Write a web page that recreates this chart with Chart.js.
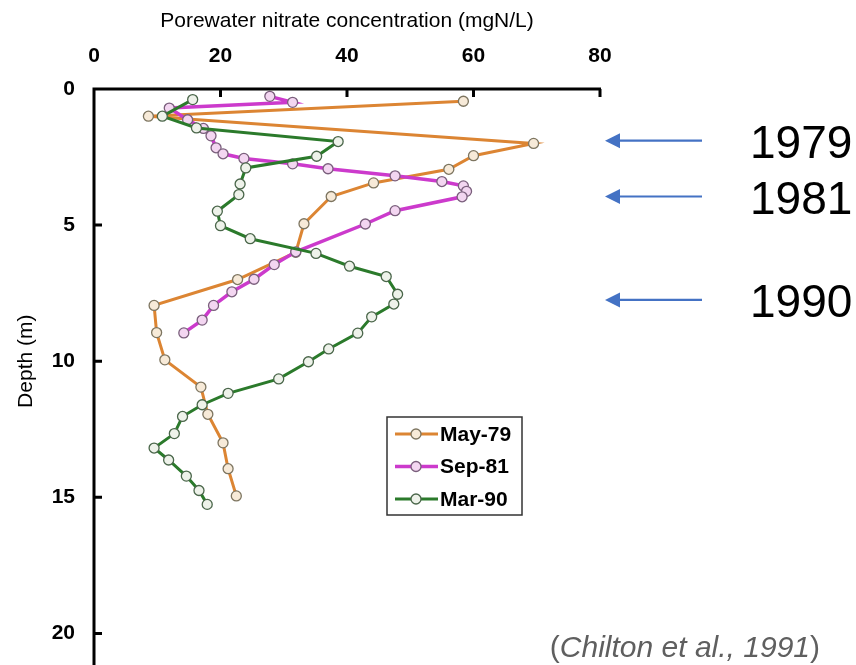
<!DOCTYPE html>
<html>
<head>
<meta charset="utf-8">
<script src="https://cdn.jsdelivr.net/npm/chart.js@4"></script>
<style>
  html, body { margin:0; padding:0; background:#fff; }
  #wrap { position:relative; width:856px; height:665px; }
</style>
</head>
<body>
<div id="wrap"><canvas id="chart" width="856" height="665"></canvas></div>
<script>
// values: nitrate (mgN/L) against depth (m)
const may79Nitrate = [58.4, 8.6, 69.5, 60.0, 56.1, 44.2, 37.5, 33.2, 31.9, 22.7, 9.5, 9.9, 11.2, 16.9, 18.0, 20.4, 21.2, 22.5];
const may79Depth   = [0.45, 1.0, 2.0, 2.45, 2.95, 3.45, 3.95, 4.95, 6.0, 7.0, 7.95, 8.95, 9.95, 10.95, 11.95, 13.0, 13.95, 14.95];

const sep81Nitrate = [27.8, 31.4, 11.9, 14.8, 17.3, 18.5, 19.3, 20.4, 23.7, 31.4, 37.0, 47.6, 55.0, 58.4, 58.9, 58.2, 47.6, 42.9, 31.9, 28.5, 25.3, 21.8, 18.9, 17.1, 14.2];
const sep81Depth   = [0.27, 0.49, 0.7, 1.13, 1.45, 1.72, 2.16, 2.38, 2.55, 2.75, 2.93, 3.19, 3.4, 3.56, 3.76, 3.96, 4.47, 4.96, 5.98, 6.45, 6.99, 7.45, 7.95, 8.49, 8.96];

const mar90Nitrate = [15.6, 10.8, 16.2, 38.6, 35.2, 24.0, 23.1, 22.9, 19.5, 20.0, 24.7, 35.1, 40.4, 46.2, 48.0, 47.4, 43.9, 41.7, 37.1, 33.9, 29.2, 21.2, 17.1, 14.0, 12.7, 9.5, 11.8, 14.6, 16.6, 17.9];
const mar90Depth   = [0.39, 1.0, 1.43, 1.93, 2.47, 2.9, 3.49, 3.88, 4.49, 5.02, 5.5, 6.04, 6.51, 6.89, 7.54, 7.9, 8.37, 8.97, 9.55, 10.02, 10.65, 11.18, 11.6, 12.03, 12.66, 13.19, 13.63, 14.22, 14.75, 15.26];

const seriesNames = ['May-79', 'Sep-81', 'Mar-90'];
const xTitle = 'Porewater nitrate concentration (mgN/L)';
const yTitle = 'Depth (m)';
const xTicks = [0, 20, 40, 60, 80];
const yTicks = [0, 5, 10, 15, 20];
const yearNotes = [{ text: '1979', depth: 1.9 }, { text: '1981', depth: 3.95 }, { text: '1990', depth: 7.75 }];
const citation = ['(', 'Chilton et al., 1991', ')'];

const toPoints = (xs, ys) => xs.map((v, i) => ({ x: v, y: ys[i] }));

function series(label, xs, ys, color, fill, edge, width, order) {
  return {
    label, data: toPoints(xs, ys), showLine: true,
    borderColor: color, borderWidth: width,
    pointRadius: 5, pointBorderWidth: 1.3,
    pointBackgroundColor: fill, pointBorderColor: edge,
    order, clip: false
  };
}

const datasets = [
  series(seriesNames[0], may79Nitrate, may79Depth, '#dc8533', '#f7ead8', '#7d7560', 3, 3),
  series(seriesNames[1], sep81Nitrate, sep81Depth, '#cc3acc', '#f3d6f1', '#7a5f7c', 3.5, 2),
  series(seriesNames[2], mar90Nitrate, mar90Depth, '#2b7a2b', '#eef2ea', '#4a664a', 3, 1)
];

const overlay = {
  id: 'overlay',
  afterDraw(chart) {
    const { ctx, chartArea: a, scales: { x, y } } = chart;
    ctx.save();
    // axes with inside ticks
    ctx.strokeStyle = '#000';
    ctx.lineWidth = 3;
    ctx.beginPath();
    ctx.moveTo(a.left - 1.5, a.top); ctx.lineTo(a.right + 1, a.top);
    ctx.moveTo(a.left, a.top); ctx.lineTo(a.left, chart.height);
    xTicks.slice(1).forEach(v => { const p = x.getPixelForValue(v); ctx.moveTo(p, a.top); ctx.lineTo(p, a.top + 8); });
    yTicks.slice(1).forEach(v => { const p = y.getPixelForValue(v); ctx.moveTo(a.left, p); ctx.lineTo(a.left + 8, p); });
    ctx.stroke();

    // legend box
    ctx.lineWidth = 1.5;
    ctx.strokeStyle = '#333';
    ctx.strokeRect(387, 417, 135, 98);
    ctx.font = 'bold 21px Arial, "Liberation Sans", sans-serif';
    ctx.textBaseline = 'middle';
    ctx.textAlign = 'left';
    chart.data.datasets.forEach((ds, i) => {
      const ry = 434 + i * 32.5;
      ctx.strokeStyle = ds.borderColor;
      ctx.lineWidth = ds.borderWidth;
      ctx.beginPath(); ctx.moveTo(395, ry); ctx.lineTo(438, ry); ctx.stroke();
      ctx.beginPath(); ctx.arc(416, ry, 5, 0, Math.PI * 2);
      ctx.fillStyle = ds.pointBackgroundColor; ctx.fill();
      ctx.lineWidth = 1.3; ctx.strokeStyle = ds.pointBorderColor; ctx.stroke();
      ctx.fillStyle = '#000';
      ctx.fillText(ds.label, 440, ry + 1);
    });

    // arrows pointing at the profiles, with the years
    yearNotes.forEach(n => {
      const py = y.getPixelForValue(n.depth);
      ctx.strokeStyle = '#4472c4';
      ctx.fillStyle = '#4472c4';
      ctx.lineWidth = 2.2;
      ctx.beginPath(); ctx.moveTo(616, py); ctx.lineTo(702, py); ctx.stroke();
      ctx.beginPath(); ctx.moveTo(605, py); ctx.lineTo(620, py - 7.5); ctx.lineTo(620, py + 7.5); ctx.closePath(); ctx.fill();
      ctx.fillStyle = '#000';
      ctx.font = '46px Arial, "Liberation Sans", sans-serif';
      ctx.textBaseline = 'alphabetic';
      ctx.fillText(n.text, 750, py + 17);
    });

    // citation, right aligned
    const fonts = ['30px Arial, "Liberation Sans", sans-serif', 'italic 30px Arial, "Liberation Sans", sans-serif', '30px Arial, "Liberation Sans", sans-serif'];
    let widths = citation.map((t, i) => { ctx.font = fonts[i]; return ctx.measureText(t).width; });
    let cx = 820 - widths.reduce((s, w) => s + w, 0);
    ctx.fillStyle = '#5f5f5f';
    ctx.textBaseline = 'alphabetic';
    citation.forEach((t, i) => { ctx.font = fonts[i]; ctx.fillText(t, cx, 657); cx += widths[i]; });
    ctx.restore();
  }
};

new Chart(document.getElementById('chart'), {
  type: 'scatter',
  data: { datasets },
  options: {
    responsive: false,
    animation: false,
    devicePixelRatio: 1,
    layout: { padding: { top: 0, left: 0, right: 256, bottom: 12 } },
    plugins: { legend: { display: false }, tooltip: { enabled: false } },
    scales: {
      x: {
        type: 'linear', position: 'top', min: 0, max: 80,
        afterFit: s => { s.height = 89; },
        afterBuildTicks: s => { s.ticks = xTicks.map(v => ({ value: v })); },
        grid: { display: false, drawTicks: false },
        border: { display: false },
        ticks: { padding: 20, color: '#000', font: { family: 'Arial, "Liberation Sans", sans-serif', size: 21, weight: 'bold' } },
        title: { display: true, text: xTitle, color: '#000', padding: { top: 9, bottom: 0 },
                 font: { family: 'Arial, "Liberation Sans", sans-serif', size: 21 } }
      },
      y: {
        type: 'linear', reverse: true, min: 0, max: 20,
        afterFit: s => { s.width = 94; },
        afterBuildTicks: s => { s.ticks = yTicks.map(v => ({ value: v })); },
        grid: { display: false, drawTicks: false },
        border: { display: false },
        ticks: { padding: 19, color: '#000', font: { family: 'Arial, "Liberation Sans", sans-serif', size: 21, weight: 'bold' } },
        title: { display: true, text: yTitle, color: '#000', padding: { top: 14, bottom: 0 },
                 font: { family: 'Arial, "Liberation Sans", sans-serif', size: 21 } }
      }
    }
  },
  plugins: [overlay]
});
</script>
</body>
</html>
